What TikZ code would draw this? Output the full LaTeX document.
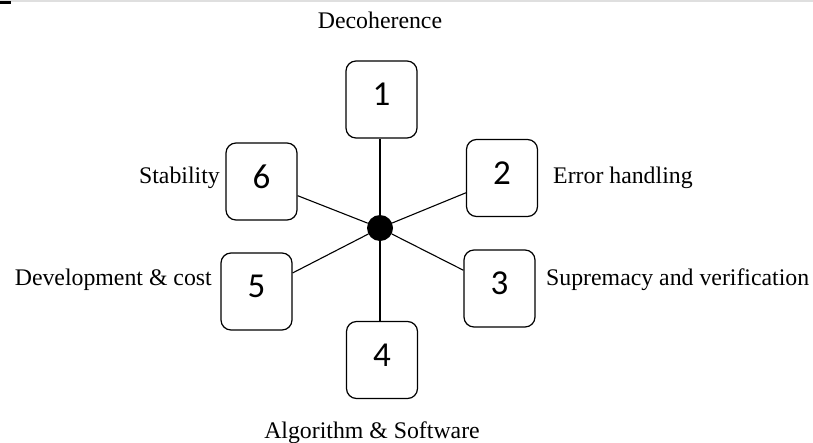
\documentclass[tikz,border=0pt]{standalone}
\usepackage{fontspec}
\setmainfont{Liberation Serif}
\newfontfamily\numfont{Carlito}
\begin{document}
\begin{tikzpicture}[x=1pt,y=-1pt,
  numbox/.style={draw, line width=1.2pt, rounded corners=10pt, minimum width=71pt, minimum height=77pt, inner sep=0pt, text depth=10pt, font=\numfont\fontsize{35}{40}\selectfont},
  lbl/.style={inner sep=0pt, font=\fontsize{23.8}{28}\selectfont},
  spoke/.style={line width=1.1pt}]
\useasboundingbox (0,0) rectangle (813,442);
\fill[gray!25] (0,0) rectangle (813,1.5);
\fill[black] (0,1) rectangle (11,3.5);
\node[circle, fill=black, minimum size=26pt, inner sep=0pt] (c) at (380,228) {};
\node[numbox] (b1) at (381.5,99.5) {1};
\node[numbox] (b2) at (502,178) {2};
\node[numbox] (b3) at (499.5,288.5) {3};
\node[numbox] (b4) at (382,360) {4};
\node[numbox] (b5) at (256.5,291.5) {5};
\node[numbox] (b6) at (261.5,181.5) {6};
\draw[spoke] (c) -- (c |- b1.south);
\draw[spoke] (c) -- (c |- b4.north);
\draw[spoke] (c) -- (b2);
\draw[spoke] (c) -- (b3);
\draw[spoke] (c) -- (b5);
\draw[spoke] (c) -- (b6);
\node[lbl, anchor=base] (l1) at (380,28) {Decoherence};
\node[lbl, anchor=base west] (l2) at (553,183) {Error handling};
\node[lbl, anchor=base west] (l3) at (546,285) {Supremacy and verification};
\node[lbl, anchor=base] (l4) at (372,438) {Algorithm \& Software};
\node[lbl, anchor=base east] (l5) at (212,285) {Development \& cost};
\node[lbl, anchor=base east] (l6) at (220,183) {Stability};
\end{tikzpicture}
\end{document}
